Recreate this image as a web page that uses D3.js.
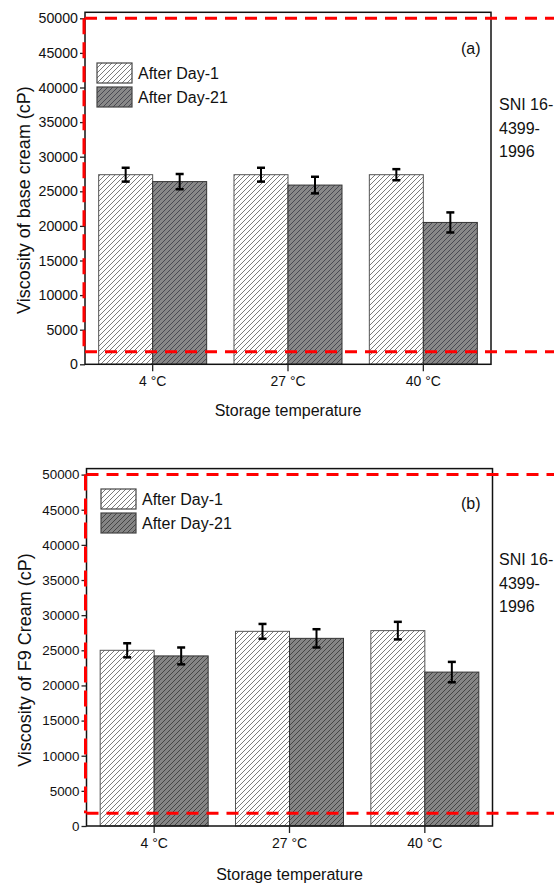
<!DOCTYPE html>
<html>
<head>
<meta charset="utf-8">
<script src="https://cdn.jsdelivr.net/npm/d3@7"></script>
<style>
  html, body { margin: 0; padding: 0; background: #fff; }
  svg { display: block; font-family: "Liberation Sans", Arial, sans-serif; }
</style>
</head>
<body>
<svg id="chart" width="554" height="884"></svg>
<script>
// ---- data ----
const categories = ["4 °C", "27 °C", "40 °C"];
const seriesNames = ["After Day-1", "After Day-21"];
const yTicks = [0, 5000, 10000, 15000, 20000, 25000, 30000, 35000, 40000, 45000, 50000];

const baseDay1 = [27400, 27400, 27400];
const baseDay1Err = [1000, 1000, 800];
const baseDay21 = [26400, 25900, 20500];
const baseDay21Err = [1100, 1200, 1450];

const f9Day1 = [25000, 27700, 27800];
const f9Day1Err = [1000, 1050, 1250];
const f9Day21 = [24200, 26700, 21900];
const f9Day21Err = [1200, 1300, 1450];

const sniLimits = [1800, 50000];
const sniLabel = ["SNI 16-", "4399-", "1996"];

const svg = d3.select("#chart");
const defs = svg.append("defs");

function hatch(id, bg, stroke, sw) {
  const p = defs.append("pattern").attr("id", id)
    .attr("patternUnits", "userSpaceOnUse").attr("width", 5).attr("height", 5);
  p.append("rect").attr("width", 5).attr("height", 5).attr("fill", bg);
  p.append("path").attr("d", "M-1,6 L6,-1 M-1,1 L1,-1 M4,6 L6,4")
    .attr("stroke", stroke).attr("stroke-width", sw).attr("fill", "none");
}
hatch("h1a", "#ffffff", "#444", 0.7);
hatch("h21a", "#888888", "#2e2e3a", 0.7);
hatch("h1b", "#ffffff", "#444", 0.7);
hatch("h21b", "#858585", "#2a2a2a", 0.7);

function drawPanel(cfg) {
  const g = svg.append("g");
  const x = d3.scaleBand().domain(categories).range([cfg.left, cfg.right]);
  const y = d3.scaleLinear().domain([0, 50000]).range([cfg.y0, cfg.y50]);
  const groupW = 108;
  const barW = groupW / 2;
  const series = [
    { name: seriesNames[0], vals: cfg.d1, errs: cfg.e1, fill: cfg.p1, stroke: "#555" },
    { name: seriesNames[1], vals: cfg.d21, errs: cfg.e21, fill: cfg.p21, stroke: "#333" }
  ];
  const frameTop = cfg.y50 - 6;

  // bars
  series.forEach((s, si) => {
    g.selectAll(null).data(categories).enter().append("rect")
      .attr("x", (c) => x(c) + x.bandwidth() / 2 - groupW / 2 + si * barW)
      .attr("y", (c, i) => y(s.vals[i]))
      .attr("width", barW)
      .attr("height", (c, i) => y(0) - y(s.vals[i]))
      .attr("fill", `url(#${s.fill})`)
      .attr("stroke", s.stroke).attr("stroke-width", 1);
  });

  // error bars
  series.forEach((s, si) => {
    categories.forEach((c, i) => {
      const cx = x(c) + x.bandwidth() / 2 - groupW / 2 + si * barW + barW / 2;
      const yt = y(s.vals[i] + s.errs[i]);
      const yb = y(s.vals[i] - s.errs[i]);
      g.append("line").attr("x1", cx).attr("x2", cx).attr("y1", yt).attr("y2", yb)
        .attr("stroke", "#000").attr("stroke-width", 2);
      [yt, yb].forEach((yy) => {
        g.append("line").attr("x1", cx - 4).attr("x2", cx + 4).attr("y1", yy).attr("y2", yy)
          .attr("stroke", "#000").attr("stroke-width", 2.5);
      });
    });
  });

  // frame
  g.append("rect").attr("x", cfg.left).attr("y", frameTop)
    .attr("width", cfg.right - cfg.left).attr("height", y(0) - frameTop)
    .attr("fill", "none").attr("stroke", "#111").attr("stroke-width", 1.5);

  // y axis
  const yAxis = d3.axisLeft(y).tickValues(yTicks).tickSize(5).tickPadding(2)
    .tickFormat(d3.format("d"));
  const ya = g.append("g").attr("transform", `translate(${cfg.left},0)`).call(yAxis);
  ya.select(".domain").remove();
  ya.selectAll("line").attr("stroke", "#222").attr("stroke-width", 1.3);
  ya.selectAll("text").attr("font-size", cfg.tickFs).attr("fill", "#111")
    .attr("font-family", "Liberation Sans, Arial, sans-serif");

  // x axis
  const xAxis = d3.axisBottom(x).tickSize(7).tickPadding(5);
  const xa = g.append("g").attr("transform", `translate(0,${y(0)})`).call(xAxis);
  xa.select(".domain").remove();
  xa.selectAll("line").attr("stroke", "#222").attr("stroke-width", 1.3);
  xa.selectAll("text").attr("font-size", 14).attr("fill", "#111")
    .attr("font-family", "Liberation Sans, Arial, sans-serif");

  // axis titles
  g.append("text").attr("x", (cfg.left + cfg.right) / 2).attr("y", cfg.xTitleY)
    .attr("text-anchor", "middle").attr("font-size", 16).attr("fill", "#111")
    .text("Storage temperature");
  g.append("text")
    .attr("transform", `translate(${cfg.yTitleX},${cfg.yTitleY}) rotate(-90)`)
    .attr("text-anchor", "middle").attr("font-size", 18).attr("fill", "#111")
    .text(cfg.yTitle);

  // panel letter
  g.append("text").attr("x", 461).attr("y", cfg.letterY)
    .attr("font-size", 16).attr("fill", "#111").text(cfg.letter);

  // legend
  series.forEach((s, si) => {
    const ly = cfg.legY + si * 24;
    g.append("rect").attr("x", cfg.legX).attr("y", ly).attr("width", 35).attr("height", 20)
      .attr("fill", `url(#${s.fill})`).attr("stroke", "#444").attr("stroke-width", 1.2);
    g.append("text").attr("x", cfg.legX + 41).attr("y", ly + 16)
      .attr("font-size", 16).attr("fill", "#111").text(s.name);
  });

  // SNI limit lines (red dashed)
  sniLimits.forEach((v) => {
    g.append("line").attr("x1", cfg.left).attr("x2", 554)
      .attr("y1", y(v)).attr("y2", y(v))
      .attr("stroke", "#f00").attr("stroke-width", 3).attr("stroke-dasharray", "12,8");
  });
  g.append("line").attr("x1", cfg.left - 1).attr("x2", cfg.left - 1)
    .attr("y1", y(sniLimits[1])).attr("y2", y(sniLimits[0]))
    .attr("stroke", "#f00").attr("stroke-width", 3).attr("stroke-dasharray", "16,8");

  // SNI label
  sniLabel.forEach((t, i) => {
    g.append("text").attr("x", 499).attr("y", cfg.sniY + i * 23.5)
      .attr("font-size", 16).attr("fill", "#111").text(t);
  });
}

drawPanel({
  left: 85, right: 491, y0: 364.3, y50: 18.3,
  d1: baseDay1, e1: baseDay1Err, d21: baseDay21, e21: baseDay21Err,
  p1: "h1a", p21: "h21a", tickFs: 14.2,
  xTitleY: 416, yTitleX: 30, yTitleY: 200,
  yTitle: "Viscosity of base cream (cP)",
  letter: "(a)", letterY: 54,
  legX: 97, legY: 63,
  sniY: 110
});

drawPanel({
  left: 86.5, right: 492.5, y0: 826, y50: 474.6,
  d1: f9Day1, e1: f9Day1Err, d21: f9Day21, e21: f9Day21Err,
  p1: "h1b", p21: "h21b", tickFs: 13.4,
  xTitleY: 880, yTitleX: 31, yTitleY: 660,
  yTitle: "Viscosity of F9 Cream (cP)",
  letter: "(b)", letterY: 509,
  legX: 101, legY: 489,
  sniY: 565
});
</script>
</body>
</html>
